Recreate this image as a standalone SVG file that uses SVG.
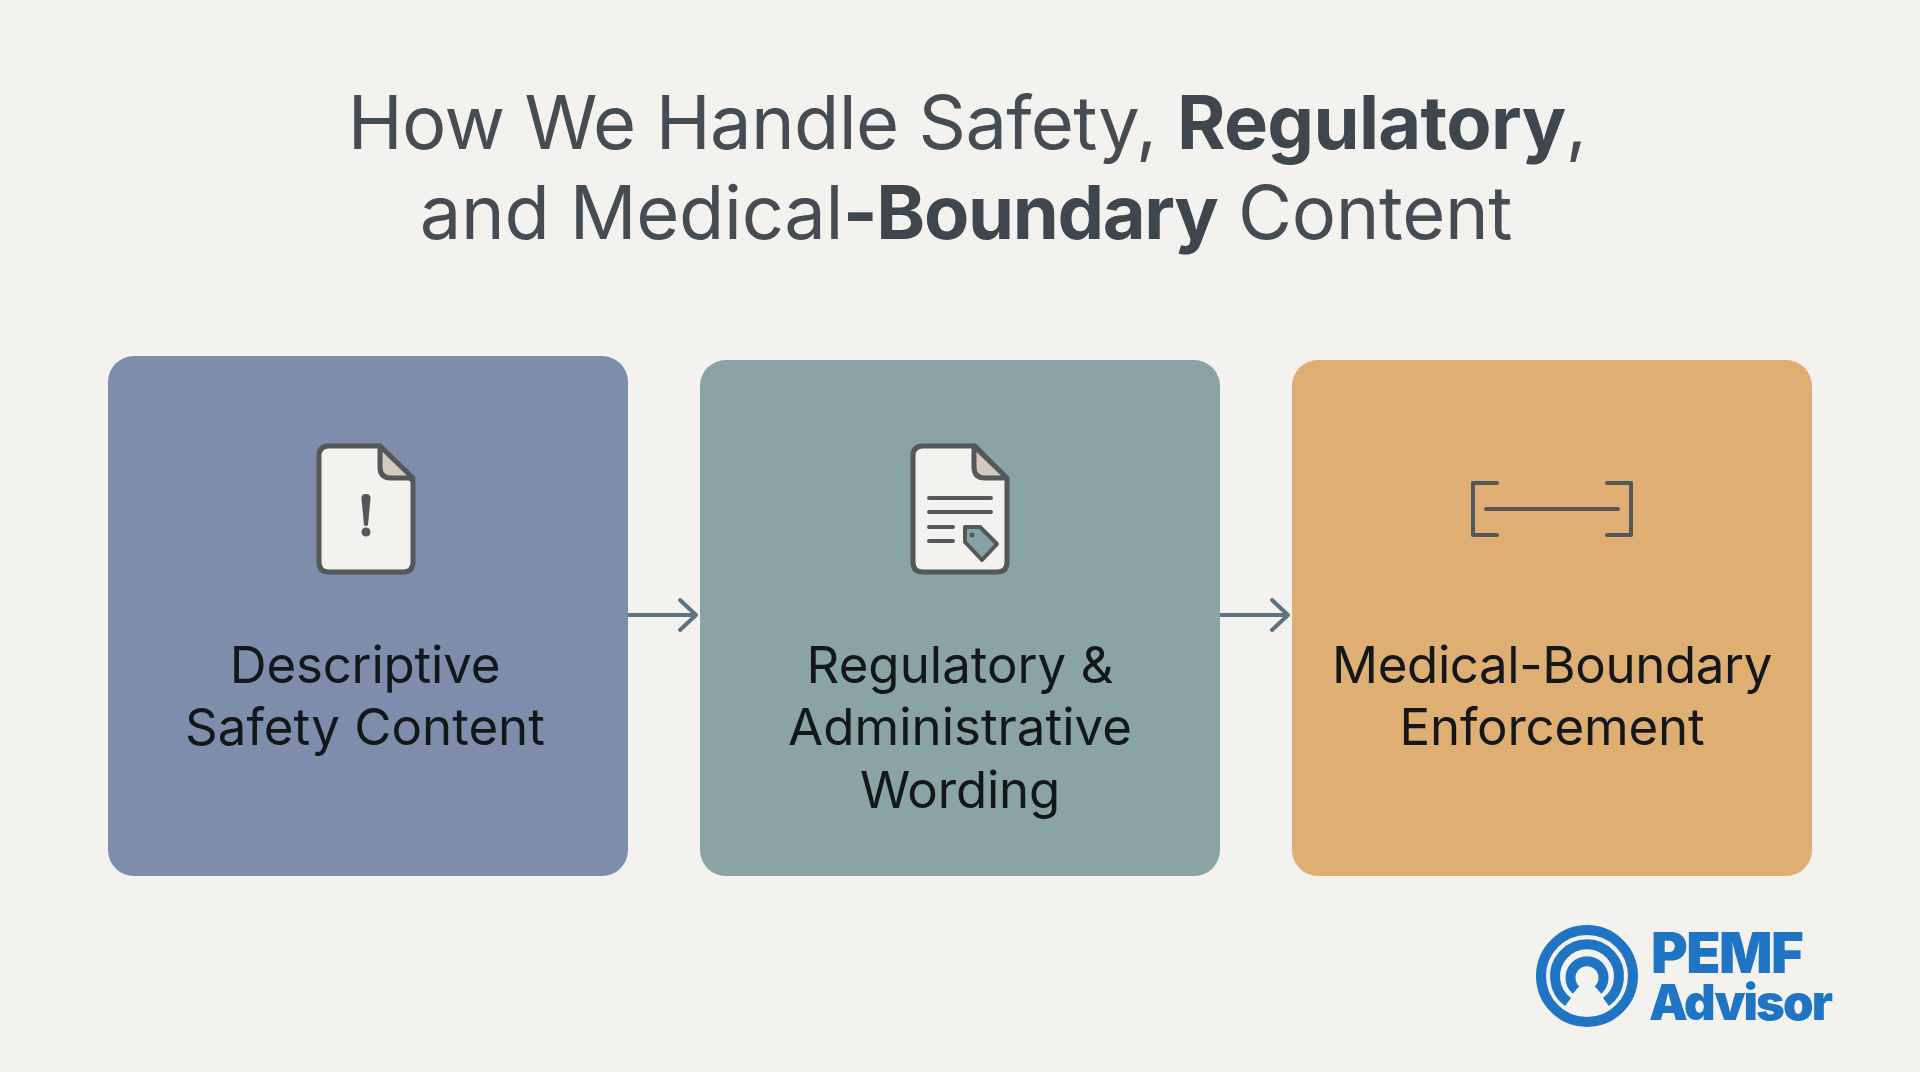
<svg xmlns="http://www.w3.org/2000/svg" width="1920" height="1072" viewBox="0 0 1920 1072">
<style>
.title{font-family:Inter,"Liberation Sans",sans-serif;font-size:74px;fill:#454c54;text-anchor:middle}
.title .b{font-weight:700;fill:#3f464e}
.label{font-family:Inter,"Liberation Sans",sans-serif;font-size:51px;fill:#14171a;text-anchor:middle}
.ico{fill:none;stroke:#55585b;stroke-width:4;stroke-linecap:round;stroke-linejoin:round}
.page{fill:#f3f2ee;stroke:#55585b;stroke-width:5;stroke-linejoin:round}
.fold{fill:#d3cabf;stroke:#55585b;stroke-width:5;stroke-linejoin:round}
.conn{fill:none;stroke:#5f7280;stroke-width:4;stroke-linecap:round;stroke-linejoin:round}
.logo{fill:none;stroke:#1f75c4;stroke-width:10}
.logot{font-family:Inter,"Liberation Sans",sans-serif;font-weight:900;fill:#1f75c4}
</style>
<rect id="background" width="1920" height="1072" fill="#f3f2ee"/>
<g id="title">
<text class="title" x="967" y="149" letter-spacing="-0.65">How We Handle Safety, <tspan class="b">Regulatory</tspan>,</text>
<text class="title" x="966" y="239" letter-spacing="-0.35">and Medical<tspan class="b" letter-spacing="-1.350">-Boundary</tspan> Content</text>
</g>
<g id="connectors">
<path class="conn" d="M629 615H696M680 600L696 615L680 630"/>
<path class="conn" d="M1221 615H1288M1272 600L1288 615L1272 630"/>
</g>
<g id="node-descriptive">
<rect x="108" y="356" width="520" height="520" rx="26" fill="#7d8dab"/>
<path class="page" d="M329 446H380L413 481V562Q413 572 403 572H329Q319 572 319 562V456Q319 446 329 446Z"/>
<path class="fold" d="M380 446L413 478H391Q380 478 380 467Z"/>
<path d="M366 494Q371 494 370.500 499L368 525Q366 527 364 525L361.500 499Q361 494 366 494Z" fill="#55585b"/>
<circle cx="366" cy="532" r="4.500" fill="#55585b"/>
<text class="label" x="365" y="683" letter-spacing="-0.2">Descriptive</text>
<text class="label" x="365" y="745">Safety Content</text>
</g>
<g id="node-regulatory">
<rect x="700" y="360" width="520" height="516" rx="26" fill="#8aa3a5"/>
<path class="page" d="M923 446H975L1007 479V562Q1007 572 997 572H923Q913 572 913 562V456Q913 446 923 446Z"/>
<path class="fold" d="M974 446L1007 478H985Q974 478 974 467Z"/>
<path class="ico" d="M929 498H991M929 512H991M929 527H953M929 541H953"/>
<path d="M965 527H980L997 544L982 560L965 542Z" fill="#87a2a4" stroke="#55585b" stroke-width="4" stroke-linejoin="round"/>
<circle cx="972" cy="535" r="2.500" fill="#55585b"/>
<text class="label" x="960" y="683">Regulatory &amp;</text>
<text class="label" x="960" y="745">Administrative</text>
<text class="label" x="960" y="808" letter-spacing="-0.2">Wording</text>
</g>
<g id="node-medical">
<rect x="1292" y="360" width="520" height="516" rx="26" fill="#deae72"/>
<path class="ico" d="M1497 483H1473V535H1497M1607 483H1631V535H1607M1486 509H1618"/>
<text class="label" x="1552" y="683" letter-spacing="-0.4">Medical-Boundary</text>
<text class="label" x="1552" y="745" letter-spacing="-0.2">Enforcement</text>
</g>
<g id="logo">
<circle class="logo" cx="1587" cy="976" r="46"/>
<path class="logo" d="M1568 1002A32 32 0 1 1 1606 1002"/>
<path class="logo" d="M1576 990A16.500 16.500 0 1 1 1598 990"/>
<text class="logot" x="1651" y="973" font-size="56" letter-spacing="-1.500">PEMF</text>
<text class="logot" x="1649" y="1020" font-size="49" letter-spacing="-1.900">Advisor</text>
</g>
</svg>
